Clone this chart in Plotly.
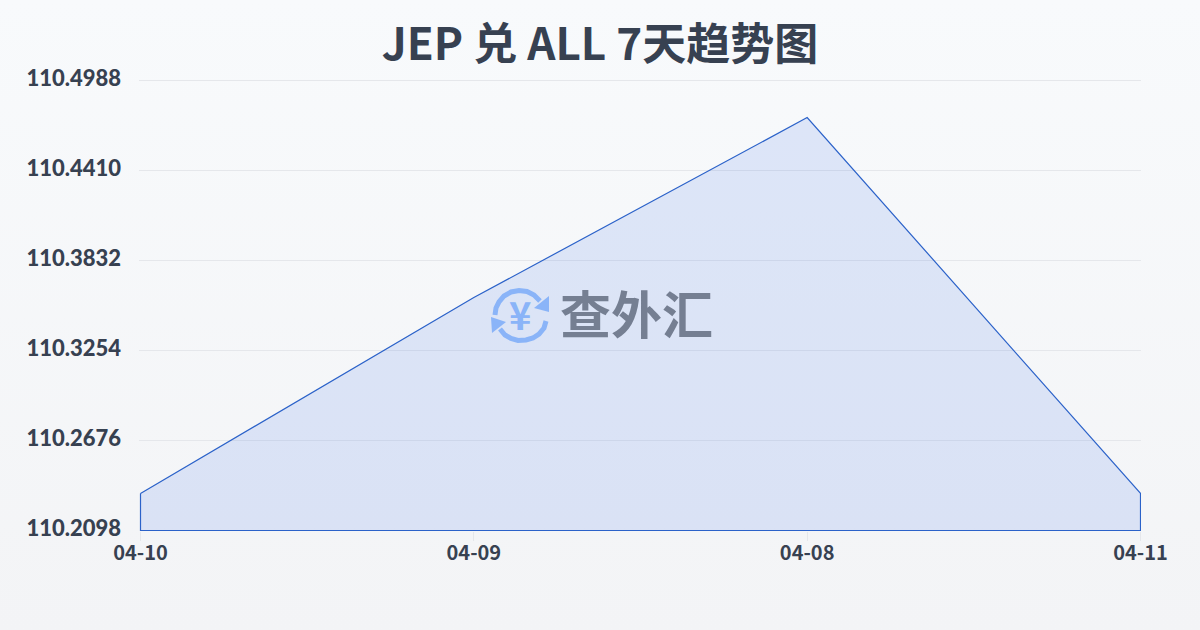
import base64
import plotly.graph_objects as go

# chart values
dates = ["04-10", "04-09", "04-08", "04-11"]
rates = [110.2336, 110.3594, 110.4750, 110.2336]
y_ticks = [110.2098, 110.2676, 110.3254, 110.3832, 110.4410, 110.4988]
y_labels = ["110.2098", "110.2676", "110.3254", "110.3832", "110.4410", "110.4988"]

W, H = 1200, 630
L, R, T, B = 139, 59, 78, 99
TEXT = "#374151"
LOGO = "#8ab4f8"
FONT = "Noto Sans CJK SC"

# axis units per pixel, the ranges get a little slack so the outline lands on whole pixels
per_px_y = (y_ticks[-1] - y_ticks[0]) / 450
per_px_x = (len(dates) - 1) / 1000


# paper coordinates from page pixels (paper is the plot area)
def px_x(x):
    return (x - L) / (W - L - R)


def px_y(y):
    return 1 - (y - T) / (H - T - B)


# background gradient as an svg picture
bg_svg = f"""<svg xmlns="http://www.w3.org/2000/svg" width="{W}" height="{H}">
<defs><linearGradient id="g" x1="0" y1="0" x2="0" y2="1">
<stop offset="0" stop-color="#f8fafc"/><stop offset="1" stop-color="#f3f4f6"/>
</linearGradient></defs><rect width="{W}" height="{H}" fill="url(#g)"/></svg>"""
bg_src = "data:image/svg+xml;base64," + base64.b64encode(bg_svg.encode()).decode()

fig = go.Figure()

# closed outline, so the line also runs down the sides and along the bottom
fig.add_trace(go.Scatter(
    x=dates + [dates[-1], dates[0], dates[0]],
    y=rates + [y_ticks[0], y_ticks[0], rates[0]],
    mode="lines",
    fill="toself",
    fillcolor="rgba(37,99,235,0.125)",
    line=dict(color="#2b62c9", width=1.2),
    hoverinfo="skip",
    showlegend=False,
    cliponaxis=False,
))


def arc_shape(path):
    return dict(type="path", path=path, xref="paper", yref="paper", layer="above",
                line=dict(color=LOGO, width=5), fillcolor="rgba(0,0,0,0)")


def tri_shape(pts):
    path = "M " + " L ".join(f"{px_x(a):.5f},{px_y(b):.5f}" for a, b in pts) + " Z"
    return dict(type="path", path=path, xref="paper", yref="paper", layer="above",
                line=dict(width=0), fillcolor=LOGO)


def poly(pts):
    return "M " + " L ".join(f"{px_x(a):.5f},{px_y(b):.5f}" for a, b in pts)


# watermark logo, two arcs with arrow heads
upper = [(495, 315), (496, 308), (499, 302), (504, 296), (511, 292), (519, 290.5), (527, 291.5), (534, 295), (540, 301)]
lower = [(546, 321), (544, 328), (539, 334), (533, 338), (526, 340), (518, 340.5), (511, 338.5), (505, 335), (500, 329)]
shapes = [
    arc_shape(poly(upper)),
    arc_shape(poly(lower)),
    tri_shape([(549, 296), (549, 312), (534, 308)]),
    tri_shape([(491, 317), (506, 322), (492, 333)]),
]

fig.update_layout(
    width=W,
    height=H,
    autosize=False,
    margin=dict(l=L, r=R, t=T, b=B),
    paper_bgcolor="#f6f7f9",
    plot_bgcolor="rgba(0,0,0,0)",
    title=dict(
        text="JEP 兑 ALL 7天趋势图",
        x=0.5,
        xanchor="center",
        y=1 - 45 / H,
        yanchor="middle",
        font=dict(family=FONT, size=44, color=TEXT, weight="bold"),
    ),
    images=[dict(source=bg_src, xref="paper", yref="paper", x=-L / (W - L - R), y=1 + T / (H - T - B),
                 sizex=W / (W - L - R), sizey=H / (H - T - B), sizing="stretch",
                 xanchor="left", yanchor="top", layer="below")],
    shapes=shapes,
    annotations=[
        dict(text="查外汇", x=px_x(636), y=px_y(312), xref="paper", yref="paper", showarrow=False,
             font=dict(family=FONT, size=51, color="#757f92", weight="bold")),
        dict(text="¥", x=px_x(520), y=px_y(313), xref="paper", yref="paper", showarrow=False,
             font=dict(family=FONT, size=38, color=LOGO, weight="bold")),
    ],
)
fig.update_xaxes(
    type="category",
    categoryorder="array",
    categoryarray=dates,
    range=[-1.5 * per_px_x, len(dates) - 1 + 0.5 * per_px_x],
    showgrid=False,
    zeroline=False,
    showline=False,
    ticks="outside",
    ticklen=9,
    tickwidth=1,
    tickcolor="#e5e7eb",
    ticklabelstandoff=-5,
    tickfont=dict(family=FONT, size=20, color=TEXT, weight="bold"),
)
fig.update_yaxes(
    # room above the top tick, plotly drops a grid line sitting right on the edge
    range=[y_ticks[0] - 0.5 * per_px_y, y_ticks[-1] + 2.5 * per_px_y],
    tickvals=y_ticks,
    ticktext=y_labels,
    showgrid=True,
    gridcolor="#e5e7eb",
    gridwidth=1,
    zeroline=False,
    showline=False,
    ticks="",
    ticklabelstandoff=17,
    ticklabelshift=-2,
    tickfont=dict(family="Lato", size=22, color=TEXT, weight=900),
)

# page body has a default margin, drop it so the chart fills the window
fig.write_html("out.html", post_script="document.body.style.margin='0';", config=dict(displayModeBar=False))
